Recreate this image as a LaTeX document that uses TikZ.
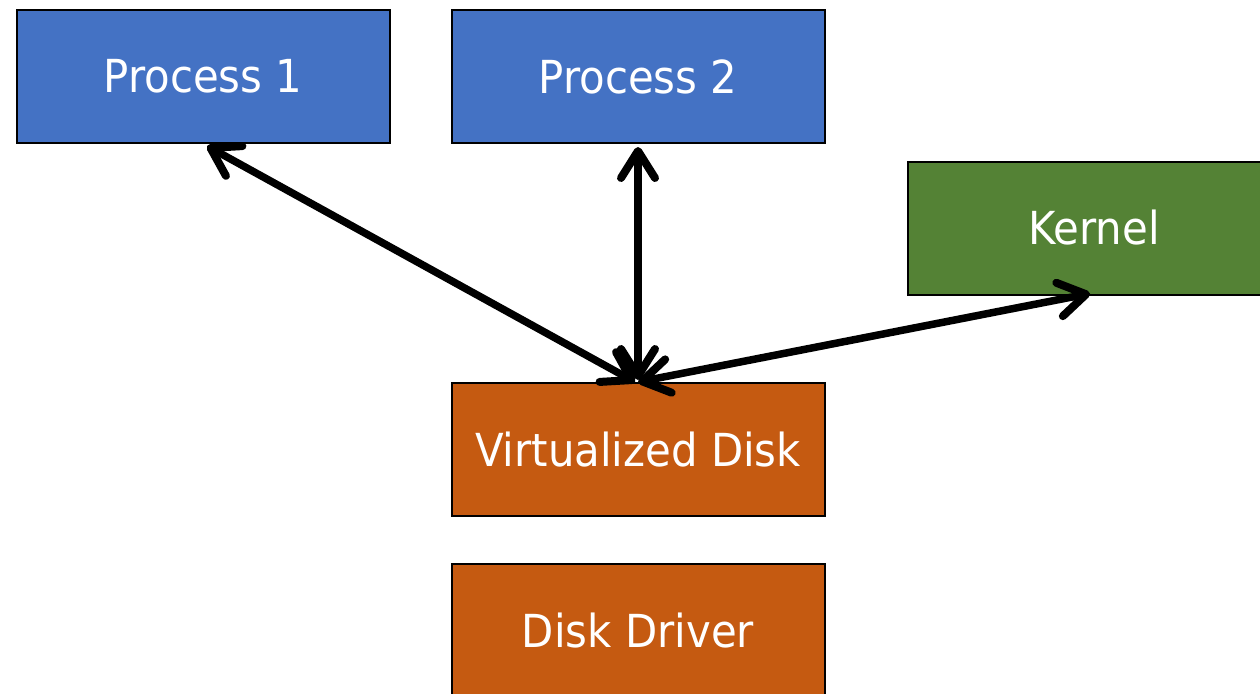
\documentclass[tikz,border=0pt]{standalone}
\usepackage{fontspec}
\setmainfont{DejaVu Sans}[FakeStretch=0.92]
\usetikzlibrary{arrows.meta}
\definecolor{pblue}{HTML}{4472C4}
\definecolor{kgreen}{HTML}{548235}
\definecolor{dorange}{HTML}{C55A11}
\tikzset{
  box/.style={draw=black, line width=2pt, minimum width=373pt, minimum height=133pt,
    inner sep=0pt, text=white, font=\fontsize{45.5}{52}\selectfont},
  tip/.tip={Straight Barb[length=27pt, width=34pt, line width=8pt, line cap=round, round]},
  arr/.style={line width=7.5pt, line cap=round, tip-tip}
}
\begin{document}
\begin{tikzpicture}[x=1pt, y=-1pt]
\useasboundingbox (0,0) rectangle (1260,693);
\clip (0,0) rectangle (1260,693);
\node[box, fill=pblue] (p1) at (203,76.5) {Process 1};
\node[box, fill=pblue] (p2) at (638,76.5) {Process 2};
\node[box, fill=kgreen] (k) at (1094,228) {Kernel};
\node[box, fill=dorange] (vd) at (638,449.5) {Virtualized Disk};
\node[box, fill=dorange] (dd) at (638,630.5) {Disk Driver};
\draw[arr] ([xshift=4pt,yshift=-2pt]p1.south) -- ([xshift=-3pt]vd.north);
\draw[arr] ([yshift=-3pt]p2.south) -- ([yshift=2pt]vd.north);
\draw[arr] ([xshift=-4pt,yshift=2pt]k.south) -- ([xshift=0pt]vd.north);
\end{tikzpicture}
\end{document}
